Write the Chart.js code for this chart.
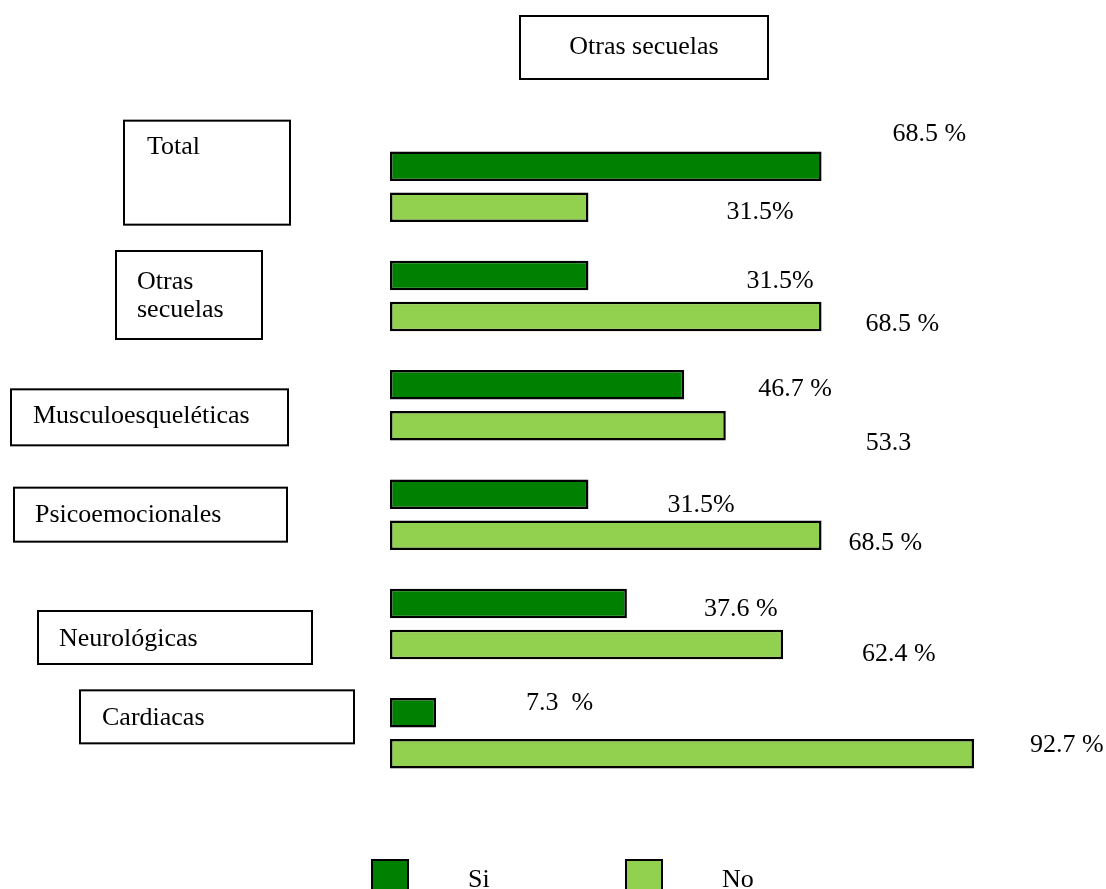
<!DOCTYPE html>
<html>
<head>
<meta charset="utf-8">
<title>Otras secuelas</title>
<script src="https://cdn.jsdelivr.net/npm/chart.js@4"></script>
<style>
  html, body { margin: 0; padding: 0; background: #fff; }
  #chart { display: block; }
</style>
</head>
<body>
<canvas id="chart" width="1106" height="889"></canvas>
<script>
// data
const categories = ["Total", "Otras secuelas", "Musculoesqueléticas", "Psicoemocionales", "Neurológicas", "Cardiacas"];
const siValues = [68.5, 31.5, 46.7, 31.5, 37.6, 7.3];
const noValues = [31.5, 68.5, 53.3, 68.5, 62.4, 92.7];
const siLabels = ["68.5 %", "31.5%", "46.7 %", "31.5%", "37.6 %", "7.3  %"];
const noLabels = ["31.5%", "68.5 %", "53.3", "68.5 %", "62.4 %", "92.7 %"];
const chartTitle = "Otras secuelas";

const FONT = "26px 'Liberation Serif', 'Times New Roman', serif";

// label boxes on the left, offsets from the category centre (the original is hand placed)
const catBoxes = [
    { x: 124, w: 166, top: -66, h: 104, tx: 147, lines: ["Total"], ty: [-39] },
    { x: 116, w: 146, top: -45, h: 88, tx: 137, lines: ["Otras", "secuelas"], ty: [-14, 14] },
    { x: 11, w: 277, top: -16, h: 56, tx: 33, lines: ["Musculoesqueléticas"], ty: [11] },
    { x: 14, w: 273, top: -27, h: 54, tx: 35, lines: ["Psicoemocionales"], ty: [1] },
    { x: 38, w: 274, top: -13, h: 53, tx: 59, lines: ["Neurológicas"], ty: [15] },
    { x: 80, w: 274, top: -43, h: 53, tx: 102, lines: ["Cardiacas"], ty: [-15] }
];

// value label nudges [dx from bar end, dy from bar centre]
const siNudge = [[71, -32], [158, 6], [74, 4], [79, 11], [77, 6], [90, -10]];
const noNudge = [[138, 5], [44, 8], [140, 17], [27, 8], [79, 10], [56, -9]];

const decorPlugin = {
    id: "decor",
    afterDatasetsDraw(chart) {
        const ctx = chart.ctx;
        const ys = chart.scales.y;
        ctx.save();
        ctx.font = FONT;
        ctx.fillStyle = "#000";
        ctx.strokeStyle = "#000";
        ctx.lineWidth = 2;
        ctx.textBaseline = "middle";

        // title box
        ctx.strokeRect(520, 16, 248, 63);
        ctx.textAlign = "center";
        ctx.fillText(chartTitle, 644, 47);
        ctx.textAlign = "left";

        // category boxes
        categories.forEach((c, i) => {
            const cy = ys.getPixelForValue(i);
            const b = catBoxes[i];
            ctx.strokeRect(b.x, cy + b.top, b.w, b.h);
            b.lines.forEach((ln, k) => ctx.fillText(ln, b.tx, cy + b.ty[k]));
        });

        // value labels
        const drawLabels = (dsIndex, labels, nudge) => {
            const meta = chart.getDatasetMeta(dsIndex);
            meta.data.forEach((bar, i) => {
                ctx.fillText(labels[i], bar.x + nudge[i][0], bar.y + nudge[i][1]);
            });
        };
        drawLabels(0, siLabels, siNudge);
        drawLabels(1, noLabels, noNudge);

        // legend
        const legendPos = [[372, 468], [626, 722]];
        chart.data.datasets.forEach((ds, i) => {
            ctx.fillStyle = ds.backgroundColor;
            ctx.fillRect(legendPos[i][0], 860, 36, 36);
            ctx.strokeRect(legendPos[i][0], 860, 36, 36);
            ctx.fillStyle = "#000";
            ctx.fillText(ds.label, legendPos[i][1], 880);
        });
        ctx.restore();
    }
};

const chart = new Chart(document.getElementById("chart"), {
    type: "bar",
    data: {
        labels: categories,
        datasets: [{
            label: "Si",
            data: siValues,
            backgroundColor: "#008000",
            borderColor: "#000",
            borderWidth: 2.5,
            borderSkipped: false
        }, {
            label: "No",
            data: noValues,
            backgroundColor: "#92d050",
            borderColor: "#000",
            borderWidth: 2.5,
            borderSkipped: false
        }]
    },
    options: {
        indexAxis: "y",
        responsive: false,
        animation: false,
        barPercentage: 0.72,
        categoryPercentage: 0.75,
        layout: {
            padding: { left: 390, right: 86, top: 132, bottom: 101 }
        },
        scales: {
            x: { min: 0, max: 100, display: false },
            y: { display: false }
        },
        plugins: {
            legend: { display: false },
            tooltip: { enabled: false }
        }
    },
    plugins: [decorPlugin]
});
</script>
</body>
</html>
